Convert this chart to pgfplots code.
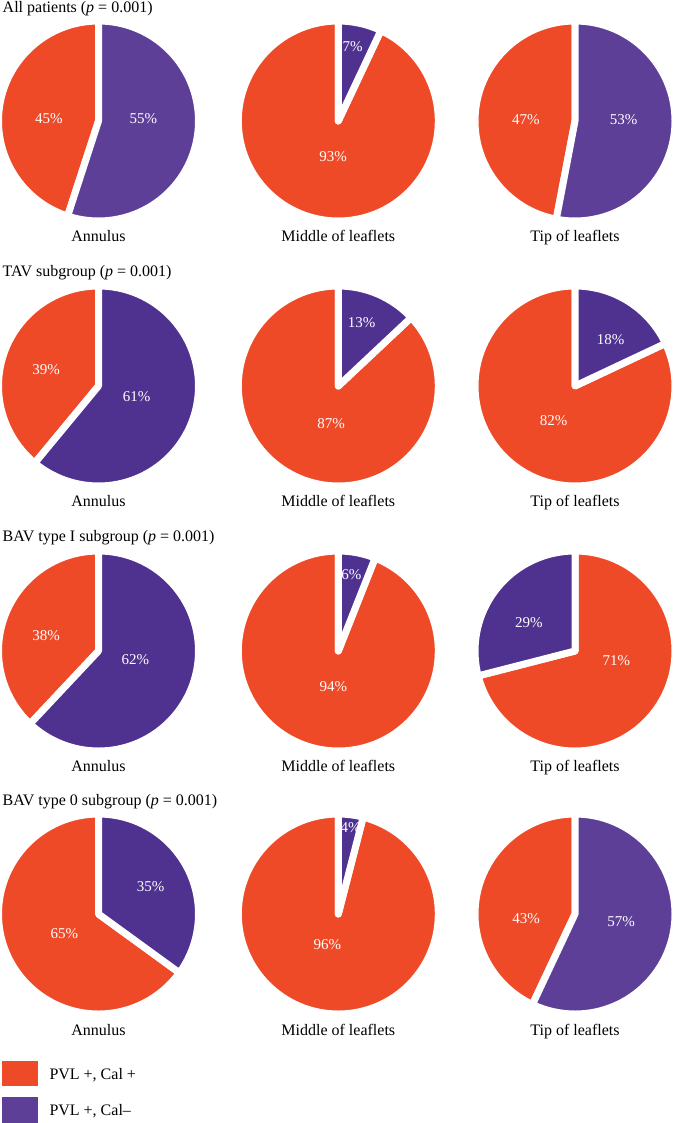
\documentclass[border=0pt]{standalone}
\usepackage{fontspec}
\setmainfont{Liberation Serif}
\usepackage{pgfplots}
\pgfplotsset{compat=1.18}
\definecolor{pred}{HTML}{EF4A28}
\definecolor{ppurA}{HTML}{5D3F98}
\definecolor{ppurB}{HTML}{4F3190}
\newcommand{\lab}{\fontsize{16}{19}\selectfont}
\newcommand{\pct}{\fontsize{15}{18}\selectfont}
% #1 start angle, #2 share in percent, #3 direction (+1 ccw, -1 cw), #4 colour
\newcommand{\slice}[4]{\fill[#4, draw=white, line width=7pt, line join=round]
  (axis cs:0,0) -- ++(#1:100pt) arc[start angle=#1, delta angle={#3*3.6*#2}, radius=100pt] -- cycle;}
\newcommand{\plab}[3]{\node[white, font=\pct, inner sep=0pt] at (axis cs:#1,#2) {#3\%};}
\pgfplotsset{pie/.style={hide axis, x=1pt, y=1pt, xmin=-110, xmax=110, ymin=-110, ymax=110, anchor=center}}
\begin{document}
\begin{tikzpicture}
\path[use as bounding box] (0,0) rectangle (673pt,-1123pt);
% ---------- Row 1 ----------
\node[anchor=base west, inner sep=0pt, font=\lab] at (2.5pt,-12.3pt) {All patients (\textit{p} = 0.001)};
\begin{axis}[pie, at={(98.5pt,-121pt)}]
\slice{90}{45}{1}{pred}
\slice{90}{55}{-1}{ppurA}
\plab{-49.7}{2}{45}
\plab{44.8}{2}{55}
\end{axis}
\begin{axis}[pie, at={(338.3pt,-121pt)}]
\slice{90}{93}{1}{pred}
\slice{90}{7}{-1}{ppurB}
\plab{14.4}{74}{7}
\plab{-5.1}{-35.9}{93}
\end{axis}
\begin{axis}[pie, at={(575pt,-121pt)}]
\slice{90}{47}{1}{pred}
\slice{90}{53}{-1}{ppurA}
\plab{-49.2}{1.3}{47}
\plab{48.5}{1.3}{53}
\end{axis}
\node[anchor=base, inner sep=0pt, font=\lab] at (98.5pt,-241pt) {Annulus};
\node[anchor=base, inner sep=0pt, font=\lab] at (338.3pt,-241pt) {Middle of leaflets};
\node[anchor=base, inner sep=0pt, font=\lab] at (575pt,-241pt) {Tip of leaflets};
% ---------- Row 2 ----------
\node[anchor=base west, inner sep=0pt, font=\lab] at (2.5pt,-276pt) {TAV subgroup (\textit{p} = 0.001)};
\begin{axis}[pie, at={(98.5pt,-386pt)}]
\slice{90}{39}{1}{pred}
\slice{90}{61}{-1}{ppurB}
\plab{-52.5}{16}{39}
\plab{38.2}{-10.7}{61}
\end{axis}
\begin{axis}[pie, at={(338.3pt,-386pt)}]
\slice{90}{87}{1}{pred}
\slice{90}{13}{-1}{ppurB}
\plab{23.2}{63.3}{13}
\plab{-7.1}{-38}{87}
\end{axis}
\begin{axis}[pie, at={(575pt,-386pt)}]
\slice{90}{82}{1}{pred}
\slice{90}{18}{-1}{ppurB}
\plab{35.6}{46.5}{18}
\plab{-21.4}{-34.2}{82}
\end{axis}
\node[anchor=base, inner sep=0pt, font=\lab] at (98.5pt,-506pt) {Annulus};
\node[anchor=base, inner sep=0pt, font=\lab] at (338.3pt,-506pt) {Middle of leaflets};
\node[anchor=base, inner sep=0pt, font=\lab] at (575pt,-506pt) {Tip of leaflets};
% ---------- Row 3 ----------
\node[anchor=base west, inner sep=0pt, font=\lab] at (2.5pt,-541.7pt) {BAV type I subgroup (\textit{p} = 0.001)};
\begin{axis}[pie, at={(98.5pt,-651pt)}]
\slice{90}{38}{1}{pred}
\slice{90}{62}{-1}{ppurB}
\plab{-52.5}{15}{38}
\plab{36.8}{-9}{62}
\end{axis}
\begin{axis}[pie, at={(338.3pt,-651pt)}]
\slice{90}{94}{1}{pred}
\slice{90}{6}{-1}{ppurB}
\plab{13}{76}{6}
\plab{-5}{-36}{94}
\end{axis}
\begin{axis}[pie, at={(575pt,-651pt)}]
\slice{90}{71}{-1}{pred}
\slice{90}{29}{1}{ppurB}
\plab{-46.2}{28.5}{29}
\plab{41.3}{-9.2}{71}
\end{axis}
\node[anchor=base, inner sep=0pt, font=\lab] at (98.5pt,-771pt) {Annulus};
\node[anchor=base, inner sep=0pt, font=\lab] at (338.3pt,-771pt) {Middle of leaflets};
\node[anchor=base, inner sep=0pt, font=\lab] at (575pt,-771pt) {Tip of leaflets};
% ---------- Row 4 ----------
\node[anchor=base west, inner sep=0pt, font=\lab] at (2.5pt,-805pt) {BAV type 0 subgroup (\textit{p} = 0.001)};
\begin{axis}[pie, at={(98.5pt,-914pt)}]
\slice{90}{65}{1}{pred}
\slice{90}{35}{-1}{ppurB}
\plab{52.2}{27.3}{35}
\plab{-34.1}{-19.3}{65}
\end{axis}
\begin{axis}[pie, at={(338.3pt,-914pt)}]
\slice{90}{96}{1}{pred}
\slice{90}{4}{-1}{ppurB}
\plab{12.4}{86.8}{4}
\plab{-11}{-30.5}{96}
\end{axis}
\begin{axis}[pie, at={(575pt,-914pt)}]
\slice{90}{43}{1}{pred}
\slice{90}{57}{-1}{ppurA}
\plab{-48.8}{-4.5}{43}
\plab{46.2}{-7.9}{57}
\end{axis}
\node[anchor=base, inner sep=0pt, font=\lab] at (98.5pt,-1035pt) {Annulus};
\node[anchor=base, inner sep=0pt, font=\lab] at (338.3pt,-1035pt) {Middle of leaflets};
\node[anchor=base, inner sep=0pt, font=\lab] at (575pt,-1035pt) {Tip of leaflets};
% ---------- Legend ----------
\fill[pred] (1.7pt,-1060.7pt) rectangle (38.3pt,-1086pt);
\fill[ppurA] (1.7pt,-1097.3pt) rectangle (38.3pt,-1122.7pt);
\node[anchor=base west, inner sep=0pt, font=\lab] at (49.3pt,-1079.3pt) {PVL +, Cal +};
\node[anchor=base west, inner sep=0pt, font=\lab] at (49.3pt,-1115pt) {PVL +, Cal–};
\end{tikzpicture}
\end{document}
